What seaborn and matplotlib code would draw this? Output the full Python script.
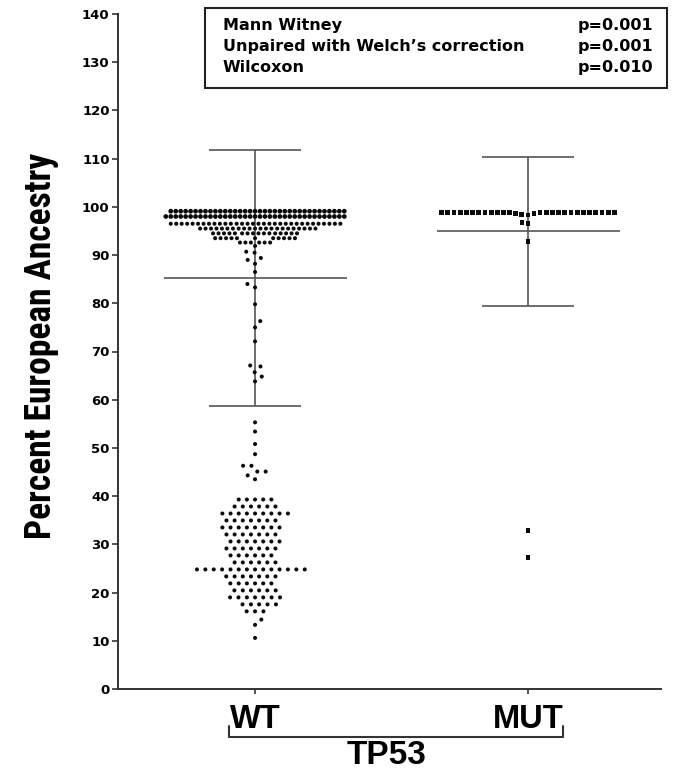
import os
import numpy as np
import pandas as pd
import matplotlib
matplotlib.use("Agg")
import matplotlib.pyplot as plt
from matplotlib.patches import Rectangle
from matplotlib.lines import Line2D
from matplotlib.transforms import blended_transform_factory
from matplotlib import font_manager
from matplotlib.font_manager import FontProperties
import seaborn as sns

# ---------------- data ----------------
categories = ["WT", "MUT"]
group_title = "TP53"
y_label = "Percent European Ancestry"
y_ticks = [0, 10, 20, 30, 40, 50, 60, 70, 80, 90, 100, 110, 120, 130, 140]

# WT: dense band just under 100 (value, count)
wt_band_values = [99.1, 98.0]
wt_band_counts = [36, 37]
# WT: dotted rows below the band
wt_row_values = [96.5, 95.5, 94.5, 93.5, 92.6, 91.9]
wt_row_counts = [32, 22, 16, 11, 6, 1]
# WT: sparse points
wt_sparse = [90.7, 90.5, 89.4, 89.0, 88.2, 86.5, 84.0, 83.3, 79.8, 76.3, 75.0,
             72.1, 67.1, 66.9, 65.7, 64.8, 63.8, 55.3, 53.4, 50.8, 48.7, 46.3,
             46.3, 45.1, 45.1, 44.3, 43.5]
# WT: low cluster (value, count)
wt_low_values = [39.3, 37.85, 36.4, 34.95, 33.5, 32.05, 30.6, 29.15, 27.7, 26.25,
                 24.8, 23.35, 21.9, 20.45, 19.0, 17.55, 16.1, 14.4, 13.3, 10.6]
wt_low_counts = [5, 6, 9, 7, 8, 7, 7, 7, 6, 6, 14, 7, 6, 6, 7, 5, 3, 1, 1, 1]

# MUT
mut_top_value = 98.9
mut_top_count = 25
mut_other = [98.7, 98.6, 98.4, 98.3, 96.8, 96.6, 92.8, 32.8, 27.2]

# mean and SD shown as error bars
means = [85.2, 94.9]
sds = [26.6, 15.4]

stat_tests = ["Mann Witney", "Unpaired with Welch\u2019s correction", "Wilcoxon"]
stat_pvals = ["p=0.001", "p=0.001", "p=0.010"]

# ---------------- figure ----------------
W, H, DPI = 677, 773, 100
sns.set_style("ticks")
plt.rcParams["font.family"] = ["DejaVu Sans"]
plt.rcParams["text.color"] = "black"
plt.rcParams["xtick.labelcolor"] = "black"
plt.rcParams["ytick.labelcolor"] = "black"

fig = plt.figure(figsize=(W / DPI, H / DPI), dpi=DPI)
ax = fig.add_axes([118 / W, 1 - 689 / H, (661 - 118) / W, (689 - 14) / H])

def px2fx(x):
    return x / W

def px2fy(y):
    return 1 - y / H

def add_swarm(cat, values, gap_px, marker="o", size=2.9):
    df = pd.DataFrame({"group": [cat] * len(values), "value": values})
    lw = max(gap_px * 72.0 / DPI - size, 0.0)
    sns.swarmplot(data=df, x="group", y="value", order=categories, color="#0a0a0a",
                  size=size, marker=marker, linewidth=lw, edgecolor="none",
                  ax=ax, warn_thresh=1.0)

wt_band = list(np.repeat(wt_band_values, wt_band_counts))
wt_rows = list(np.repeat(wt_row_values, wt_row_counts))
wt_low = list(np.repeat(wt_low_values, wt_low_counts))
mut_all = [mut_top_value] * mut_top_count + mut_other

add_swarm("WT", wt_band, 4.7, size=3.4)
add_swarm("WT", wt_rows, 5.2)
add_swarm("WT", wt_sparse + wt_low, 8.0)
add_swarm("MUT", mut_all, 5.9, marker="s", size=3.5)

# error bars (mean +/- SD)
ecol = "#555555"
for i, (m, s) in enumerate(zip(means, sds)):
    ax.vlines(i, m - s, m + s, color=ecol, lw=1.2, zorder=2)
    ax.hlines([m - s, m + s], i - 0.167, i + 0.167, color=ecol, lw=1.2, zorder=2)
    ax.hlines(m, i - 0.335, i + 0.335, color=ecol, lw=1.2, zorder=2)

ax.set_xlim(-0.502, 1.487)
ax.set_ylim(0, 140)
ax.set_yticks(y_ticks)
ax.set_yticklabels([str(t) for t in y_ticks], fontsize=9.5, fontweight="bold",
                   family=["DejaVu Sans"], color="black")
ax.set_xticks(range(len(categories)))
ax.set_xticklabels(categories, fontsize=23.5, fontweight="bold",
                   family=["Liberation Sans", "DejaVu Sans"], color="black")
ax.set_xlabel("")
ax.set_ylabel("")
for side in ("top", "right"):
    ax.spines[side].set_visible(False)
for side in ("left", "bottom"):
    ax.spines[side].set_color("#333333")
    ax.spines[side].set_linewidth(1.4)
ax.tick_params(axis="y", length=4.5, width=1.2, color="#333333", pad=1.5)
ax.tick_params(axis="x", length=3.5, width=1.2, color="#333333", pad=7)

# y-axis label: a bold condensed face if one is installed
def pick_condensed_bold():
    prefs = ["Liberation Sans Narrow", "Arial Narrow", "Roboto Condensed",
             "Open Sans Condensed", "DejaVu Sans Condensed"]
    cands = []
    for f in font_manager.fontManager.ttflist:
        base = os.path.basename(f.fname).lower()
        nm = f.name
        cond = ("narrow" in nm.lower() or "condensed" in nm.lower()
                or "narrow" in base or "condensed" in base or "cond" in base)
        bold = ("bold" in base) or (str(f.weight) in ("700", "bold"))
        italic = ("italic" in base) or ("oblique" in base) or f.style != "normal"
        if cond and bold and not italic and "extrabold" not in base:
            rank = len(prefs)
            for k, p in enumerate(prefs):
                if p.lower() in nm.lower():
                    rank = k
                    break
            cands.append((rank, f.fname))
    if cands:
        cands.sort()
        return FontProperties(fname=cands[0][1])
    return FontProperties(family=["Liberation Sans", "DejaVu Sans"], weight="bold")

yl_fp = pick_condensed_bold()
yl_fp.set_size(24)
ylab = fig.text(px2fx(41), px2fy(346), y_label, rotation=90, ha="center",
                va="center", fontproperties=yl_fp, color="black")
fig.canvas.draw()
ext = ylab.get_window_extent()
yl_fp.set_size(24 * 388.0 / ext.height)
ylab.set_fontproperties(yl_fp)

# bracket under the categories
tr = blended_transform_factory(ax.transData, fig.transFigure)
bx = [-0.095, -0.095, 1.128, 1.128]
by = [px2fy(726), px2fy(737), px2fy(737), px2fy(726)]
fig.add_artist(Line2D(bx, by, transform=tr, color="#333333", lw=1.5))
fig.text(px2fx(387), px2fy(756), group_title, ha="center", va="center",
         fontsize=24, fontweight="bold", family=["Liberation Sans", "DejaVu Sans"],
         color="black")

# statistics box
fig.add_artist(Rectangle((px2fx(205), px2fy(88)), (667 - 205) / W, (88 - 8) / H,
                         transform=fig.transFigure, fill=False, lw=1.5,
                         ec="#222222"))
for k, (t, p) in enumerate(zip(stat_tests, stat_pvals)):
    yb = px2fy(30 + 21 * k)
    fig.text(px2fx(223), yb, t, ha="left", va="baseline", fontsize=11.5,
             fontweight="bold", family=["DejaVu Sans"], color="black")
    fig.text(px2fx(653), yb, p, ha="right", va="baseline", fontsize=11.5,
             fontweight="bold", family=["DejaVu Sans"], color="black")

fig.savefig("out.png", dpi=DPI)
